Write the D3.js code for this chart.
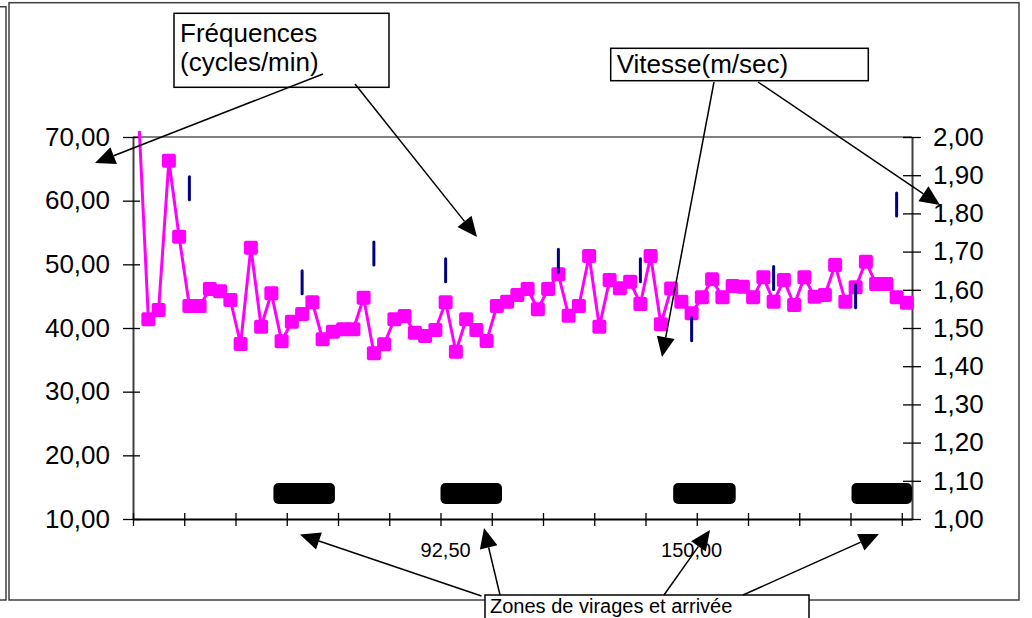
<!DOCTYPE html>
<html><head><meta charset="utf-8">
<script src="https://cdn.jsdelivr.net/npm/d3@7"></script>
<style>
html,body{margin:0;padding:0;background:#fff;}
svg{display:block;font-family:"Liberation Sans",Arial,sans-serif;}
</style></head>
<body>
<svg id="c" width="1032" height="618"></svg>
<script>
// ---- data ----
const categoryCount = 76;
const freq = [75.00, 41.37, 42.83, 66.28, 54.34, 43.46, 43.46, 46.13, 45.76, 44.40,
  37.49, 52.62, 40.21, 45.45, 37.91, 41.00, 42.20, 44.04, 38.23, 39.42,
  39.80, 39.80, 44.76, 36.03, 37.44, 41.37, 41.89, 39.26, 38.74, 39.69,
  44.04, 36.28, 41.37, 39.69, 37.96, 43.46, 44.13, 45.18, 46.13, 42.94,
  46.13, 48.44, 41.94, 43.46, 51.31, 40.21, 47.54, 46.23, 47.27, 43.77,
  51.31, 40.60, 46.20, 44.13, 42.30, 44.82, 47.65, 44.82, 46.60, 46.49,
  44.82, 47.96, 44.13, 47.54, 43.61, 47.96, 44.92, 45.19, 49.90, 44.13,
  46.39, 50.42, 46.91, 46.91, 44.82, 43.97];
const speedCats = [5, 16, 23, 30, 41, 49, 54, 62, 70, 74];
const speedVals = [1.866, 1.620, 1.695, 1.651, 1.676, 1.651, 1.497, 1.631, 1.583, 1.823];
const zoneStart = [13.7, 30.0, 52.7, 70.1];
const zoneEnd   = [19.7, 36.0, 58.8, 76.0];
const zoneLevel = 14;
const leftTicks = [10, 20, 30, 40, 50, 60, 70];
const rightTicks = [1.0, 1.1, 1.2, 1.3, 1.4, 1.5, 1.6, 1.7, 1.8, 1.9, 2.0];
const xTickCats = [0, 5, 10, 15, 20, 25, 30, 35, 40, 45, 50, 55, 60, 65, 70, 75];
const xLabelCats = [30, 54];
const xLabels = ["92,50", "150,00"];

// ---- layout ----
const L = 133, R = 912, T = 137, B = 519;
const svg = d3.select("#c");
const x = d3.scaleLinear().domain([0, categoryCount]).range([L, R]);
const yL = d3.scaleLinear().domain([10, 70]).range([B, T]);
const yR = d3.scaleLinear().domain([1, 2]).range([B, T]);
const fmt = d => d3.format(".2f")(d).replace(".", ",");

// outer frames
const frameCol = "#404040";
svg.append("rect").attr("x", 9).attr("y", 2.7).attr("width", 1010).attr("height", 597.3)
  .attr("fill", "none").attr("stroke", frameCol).attr("stroke-width", 1.5);
svg.append("path").attr("d", "M0,6.7H6V600H0").attr("fill", "none")
  .attr("stroke", frameCol).attr("stroke-width", 1.5);

// plot top border
svg.append("line").attr("x1", L).attr("x2", R).attr("y1", T).attr("y2", T)
  .attr("stroke", "#808080").attr("stroke-width", 2);

// left axis
const gL = svg.append("g").attr("transform", `translate(${L},0)`)
  .call(d3.axisLeft(yL).tickValues(leftTicks).tickFormat(fmt).tickSize(0).tickPadding(23));
gL.select(".domain").attr("stroke", "#404040").attr("stroke-width", 2);
gL.selectAll(".tick text").attr("font-size", 26).attr("fill", "#000")
  .attr("font-family", "Liberation Sans, Arial, sans-serif");
gL.selectAll(".tick").append("line").attr("x1", -10).attr("x2", 7)
  .attr("stroke", "#000").attr("stroke-width", 1.3);

// right axis
const gR = svg.append("g").attr("transform", `translate(${R},0)`)
  .call(d3.axisRight(yR).tickValues(rightTicks).tickFormat(fmt).tickSize(0).tickPadding(21));
gR.select(".domain").attr("stroke", "#404040").attr("stroke-width", 2);
gR.selectAll(".tick text").attr("font-size", 26).attr("fill", "#000")
  .attr("font-family", "Liberation Sans, Arial, sans-serif");
gR.selectAll(".tick").append("line").attr("x1", -9).attr("x2", 9)
  .attr("stroke", "#000").attr("stroke-width", 1.3);

// x axis
const gX = svg.append("g").attr("transform", `translate(0,${B})`)
  .call(d3.axisBottom(x).tickValues(xTickCats).tickFormat("").tickSize(0));
gX.select(".domain").attr("stroke", "#000").attr("stroke-width", 2);
gX.selectAll(".tick").append("line").attr("y1", -6).attr("y2", 7)
  .attr("stroke", "#000").attr("stroke-width", 1.3);
svg.append("g").selectAll("text").data(xLabelCats).join("text")
  .attr("x", d => x(d + 0.5)).attr("y", 557.3).attr("text-anchor", "middle")
  .attr("font-size", 20).text((d, i) => xLabels[i]);

// clip
svg.append("clipPath").attr("id", "clip").append("rect")
  .attr("x", L - 10).attr("y", T - 6).attr("width", R - L + 20).attr("height", B - T + 6);

// zones
svg.append("g").selectAll("rect").data(zoneStart).join("rect")
  .attr("x", d => x(d)).attr("width", (d, i) => x(zoneEnd[i]) - x(d))
  .attr("y", yL(zoneLevel) - 10.5).attr("height", 21).attr("rx", 5)
  .attr("fill", "#000");

// frequency series
const gF = svg.append("g").attr("clip-path", "url(#clip)");
gF.append("path").datum(freq)
  .attr("d", d3.line().x((d, i) => x(i + 0.5)).y(d => yL(d)))
  .attr("fill", "none").attr("stroke", "#FF00FF").attr("stroke-width", 3)
  .attr("stroke-linejoin", "round");
gF.selectAll("rect.m").data(freq.map((v, i) => ({v, i})).filter(d => d.i > 0)).join("rect")
  .attr("class", "m")
  .attr("x", d => x(d.i + 0.5) - 7).attr("y", d => yL(d.v) - 7)
  .attr("width", 14).attr("height", 14).attr("rx", 2).attr("fill", "#FF00FF");

// speed series
svg.append("g").selectAll("rect").data(speedCats).join("rect")
  .attr("x", d => x(d + 0.5) - 1.5).attr("y", (d, i) => yR(speedVals[i]) - 13)
  .attr("width", 3).attr("height", 26).attr("rx", 1.5).attr("fill", "#000080");

// annotation boxes
function box(x0, y0, w, h) {
  svg.append("rect").attr("x", x0).attr("y", y0).attr("width", w).attr("height", h)
    .attr("fill", "#fff").attr("stroke", "#000").attr("stroke-width", 1.5);
}
box(174, 13.3, 215, 74);
svg.append("text").attr("x", 180).attr("y", 41.5).attr("font-size", 26).text("Fréquences");
svg.append("text").attr("x", 180).attr("y", 71).attr("font-size", 26).text("(cycles/min)");
box(610.7, 48.3, 257.6, 32.4);
svg.append("text").attr("x", 616.7).attr("y", 72.7).attr("font-size", 26).text("Vitesse(m/sec)");
box(485, 595, 324, 40);
svg.append("text").attr("x", 490).attr("y", 613).attr("font-size", 20).text("Zones de virages et arrivée");

// arrows
function arrow(x1, y1, x2, y2) {
  const len = 20, hw = 9;
  const dx = x2 - x1, dy = y2 - y1, d = Math.hypot(dx, dy);
  const ux = dx / d, uy = dy / d;
  const bx = x2 - ux * len, by = y2 - uy * len;
  svg.append("line").attr("x1", x1).attr("y1", y1).attr("x2", bx).attr("y2", by)
    .attr("stroke", "#000").attr("stroke-width", 1.5);
  svg.append("path")
    .attr("d", `M${x2},${y2}L${bx - uy * hw},${by + ux * hw}L${bx + uy * hw},${by - ux * hw}Z`)
    .attr("fill", "#000");
}
arrow(323, 74, 95, 163);
arrow(355, 84, 477, 237);
arrow(714, 82, 662, 357);
arrow(758, 82, 940, 205);
arrow(481.5, 596, 300, 534.5);
arrow(500, 595, 484, 528);
arrow(664, 595, 710, 530);
arrow(743, 595, 879, 534);
</script>
</body></html>
